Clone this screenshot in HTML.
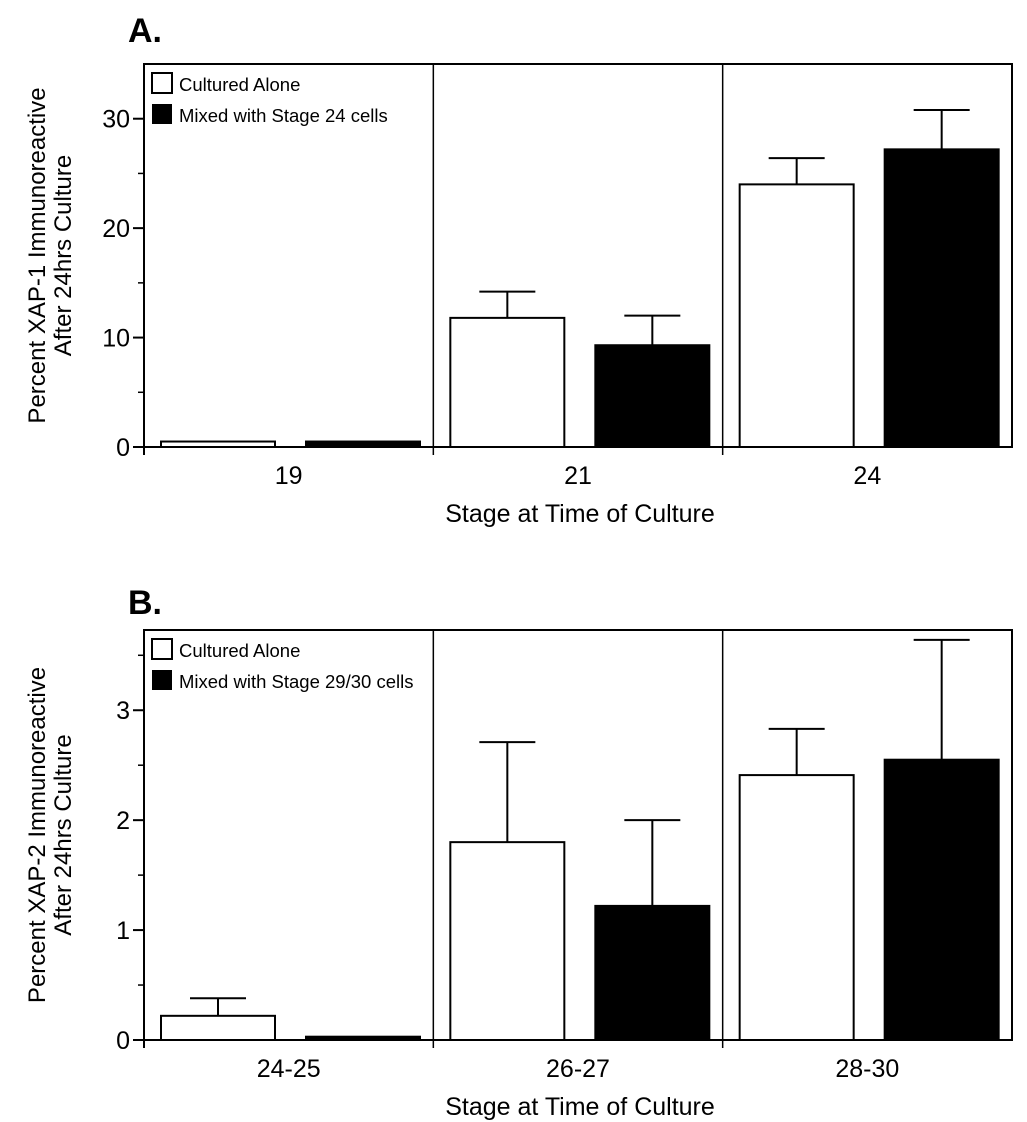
<!DOCTYPE html>
<html><head><meta charset="utf-8"><style>
html,body{margin:0;padding:0;background:#fff;}
svg{display:block;font-family:"Liberation Sans",Arial,sans-serif;}
</style></head><body>
<svg id="chart" width="1027" height="1122" viewBox="0 0 1027 1122"></svg>
<script>
// Panel A data
const catsA = ["19","21","24"];
const aloneA = [0.5, 11.8, 24.0];
const aloneErrA = [0.5, 14.2, 26.4];
const mixedA = [0.5, 9.3, 27.2];
const mixedErrA = [0.5, 12.0, 30.8];
const ticksA = [0,10,20,30];
const minorA = [5,15,25];
// Panel B data
const catsB = ["24-25","26-27","28-30"];
const aloneB = [0.22, 1.8, 2.41];
const aloneErrB = [0.38, 2.71, 2.83];
const mixedB = [0.03, 1.22, 2.55];
const mixedErrB = [0.03, 2.0, 3.64];
const ticksB = [0,1,2,3];
const minorB = [0.5,1.5,2.5,3.5];

const NS="http://www.w3.org/2000/svg";
const svg=document.getElementById('chart');
function mk(tag,attrs,parent,text){const e=document.createElementNS(NS,tag);for(const k in attrs)e.setAttribute(k,attrs[k]);if(text!==undefined)e.textContent=text;(parent||svg).appendChild(e);return e;}

function panel(o){
  const g=mk('g',{});
  
  
  const L=144,R=1012,T=o.top,B=o.bottom;
  const y=v=>B-(v/o.max)*(B-T);
  const groupW=(R-L)/3;
  const t=mk('text',{x:128,y:o.letterY,'font-size':34,'font-weight':'bold'},g,o.letter);
  
  
  const fr=mk('rect',{x:L,y:T,width:R-L,height:B-T,fill:'none',stroke:'#000','stroke-width':2},g);
  
  
  for(let i=1;i<3;i++){
    const x=L+groupW*i;
    const d=mk('line',{x1:x,y1:T,x2:x,y2:B+8,stroke:'#000','stroke-width':1.5},g);
    
    
  }
  mk('line',{x1:L,y1:B,x2:L,y2:B+8,stroke:'#000','stroke-width':2},g);
  o.ticks.forEach(v=>{
    const l=mk('line',{x1:L-11,y1:y(v),x2:L,y2:y(v),stroke:'#000','stroke-width':2},g);
    
    
    const tx=mk('text',{x:L-14,y:y(v)+9,'font-size':25,'text-anchor':'end'},g,String(v));
    
    
  });
  o.minor.forEach(v=>{
    const l=mk('line',{x1:L-6,y1:y(v),x2:L,y2:y(v),stroke:'#000','stroke-width':1.5},g);
    
    
  });
  const bw=114;
  o.cats.forEach((c,i)=>{
    const gx=L+groupW*i;
    const series=[[o.alone[i],o.aloneErr[i],'#fff',gx+17,'bar-cultured-alone-'+c],[o.mixed[i],o.mixedErr[i],'#000',gx+162,'bar-mixed-'+c]];
    series.forEach(s=>{
      const [v,e,fill,x,nm]=s;
      const cx=x+bw/2;
      if(e>v){
        const el=mk('line',{x1:cx,y1:y(v),x2:cx,y2:y(e),stroke:'#000','stroke-width':2},g);
        
        
        const cap=mk('line',{x1:cx-28,y1:y(e),x2:cx+28,y2:y(e),stroke:'#000','stroke-width':2},g);
        
        
      }
      const r=mk('rect',{x:x,y:y(v),width:bw,height:Math.max(B-y(v),1),fill:fill,stroke:'#000','stroke-width':2},g);
      
      
    });
    const lab=mk('text',{x:gx+groupW/2,y:B+37,'font-size':25,'text-anchor':'middle'},g,c);
    
    
  });
  const xt=mk('text',{x:580,y:B+75,'font-size':25,'text-anchor':'middle'},g,'Stage at Time of Culture');
  
  
  const cy=(T+B)/2;
  const yt=mk('text',{transform:`translate(45,${cy}) rotate(-90)`,'font-size':24,'text-anchor':'middle'},g,o.ytitle);
  
  
  const yt2=mk('text',{transform:`translate(71,${cy}) rotate(-90)`,'font-size':24,'text-anchor':'middle'},g,'After 24hrs Culture');
  
  
  const lg=mk('g',{},g);
  
  
  const e1=mk('rect',{x:152,y:T+9,width:20,height:20,fill:'#fff',stroke:'#000','stroke-width':2},lg);
  
  
  const t1=mk('text',{x:179,y:T+27,'font-size':18.5},lg,'Cultured Alone');
  
  
  const e2=mk('rect',{x:152,y:T+40,width:20,height:20,fill:'#000'},lg);
  
  
  const t2=mk('text',{x:179,y:T+58,'font-size':18.5},lg,o.mixLabel);
  
  
}

panel({name:'panel-a',letter:'A.',letterY:42,top:64,bottom:447,max:35,cats:catsA,alone:aloneA,aloneErr:aloneErrA,mixed:mixedA,mixedErr:mixedErrA,ticks:ticksA,minor:minorA,ytitle:'Percent XAP-1 Immunoreactive',mixLabel:'Mixed with Stage 24 cells'});
panel({name:'panel-b',letter:'B.',letterY:614,top:630,bottom:1040,max:3.73,cats:catsB,alone:aloneB,aloneErr:aloneErrB,mixed:mixedB,mixedErr:mixedErrB,ticks:ticksB,minor:minorB,ytitle:'Percent XAP-2 Immunoreactive',mixLabel:'Mixed with Stage 29/30 cells'});
</script>
</body></html>
